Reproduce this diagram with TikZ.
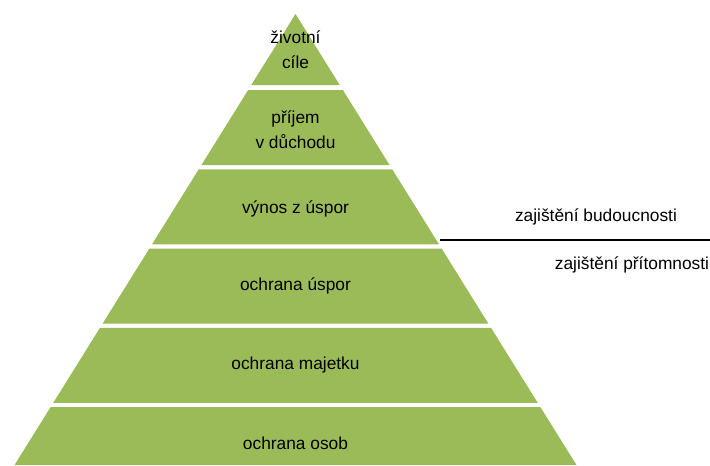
\documentclass[tikz,border=0pt]{standalone}
\usepackage{fontspec}
\setmainfont{Liberation Sans}
\definecolor{pyrgreen}{RGB}{155,187,89}

\begin{document}
\begin{tikzpicture}[x=0.75pt,y=-0.75pt,
    stupen/.style={fill=pyrgreen},
    popis/.style={font=\fontsize{13}{19}\selectfont,align=center,text=black}]
    \useasboundingbox (0,0) rectangle (710,465);
    % vrchol pyramidy:
    \fill[stupen] (295.5,14) -- ({295.5+0.623*71},85) -- ({295.5-0.623*71},85) -- cycle;
    % dalsi stupne:
    \foreach \t/\b in {90/165, 169.3/244.3, 248.6/323.6, 327.9/402.9, 407.2/465}
        \fill[stupen] ({295.5-0.623*(\t-14)},\t) -- ({295.5+0.623*(\t-14)},\t)
            -- ({295.5+0.623*(\b-14)},\b) -- ({295.5-0.623*(\b-14)},\b) -- cycle;
    % popisky stupnu:
    \node[popis] (cile) at (295.5,49.5) {životní\\cíle};
    \node[popis] (prijem) at (295.5,129.5) {příjem\\v důchodu};
    \node[popis] (vynos) at (295.5,209) {výnos z úspor};
    \node[popis] (uspory) at (295.5,286) {ochrana úspor};
    \node[popis] (majetek) at (295.5,365) {ochrana majetku};
    \node[popis] (osoby) at (295.5,443) {ochrana osob};
    % deleni budoucnost / pritomnost:
    \coordinate (hranice) at (440,240);
    \coordinate (okraj) at (710,240);
    \draw[line width=2.2pt] (hranice) -- (okraj);
    \node[popis] (budoucnost) at (596,217) {zajištění budoucnosti};
    \node[popis] (pritomnost) at (632,265) {zajištění přítomnosti};
\end{tikzpicture}
\end{document}
